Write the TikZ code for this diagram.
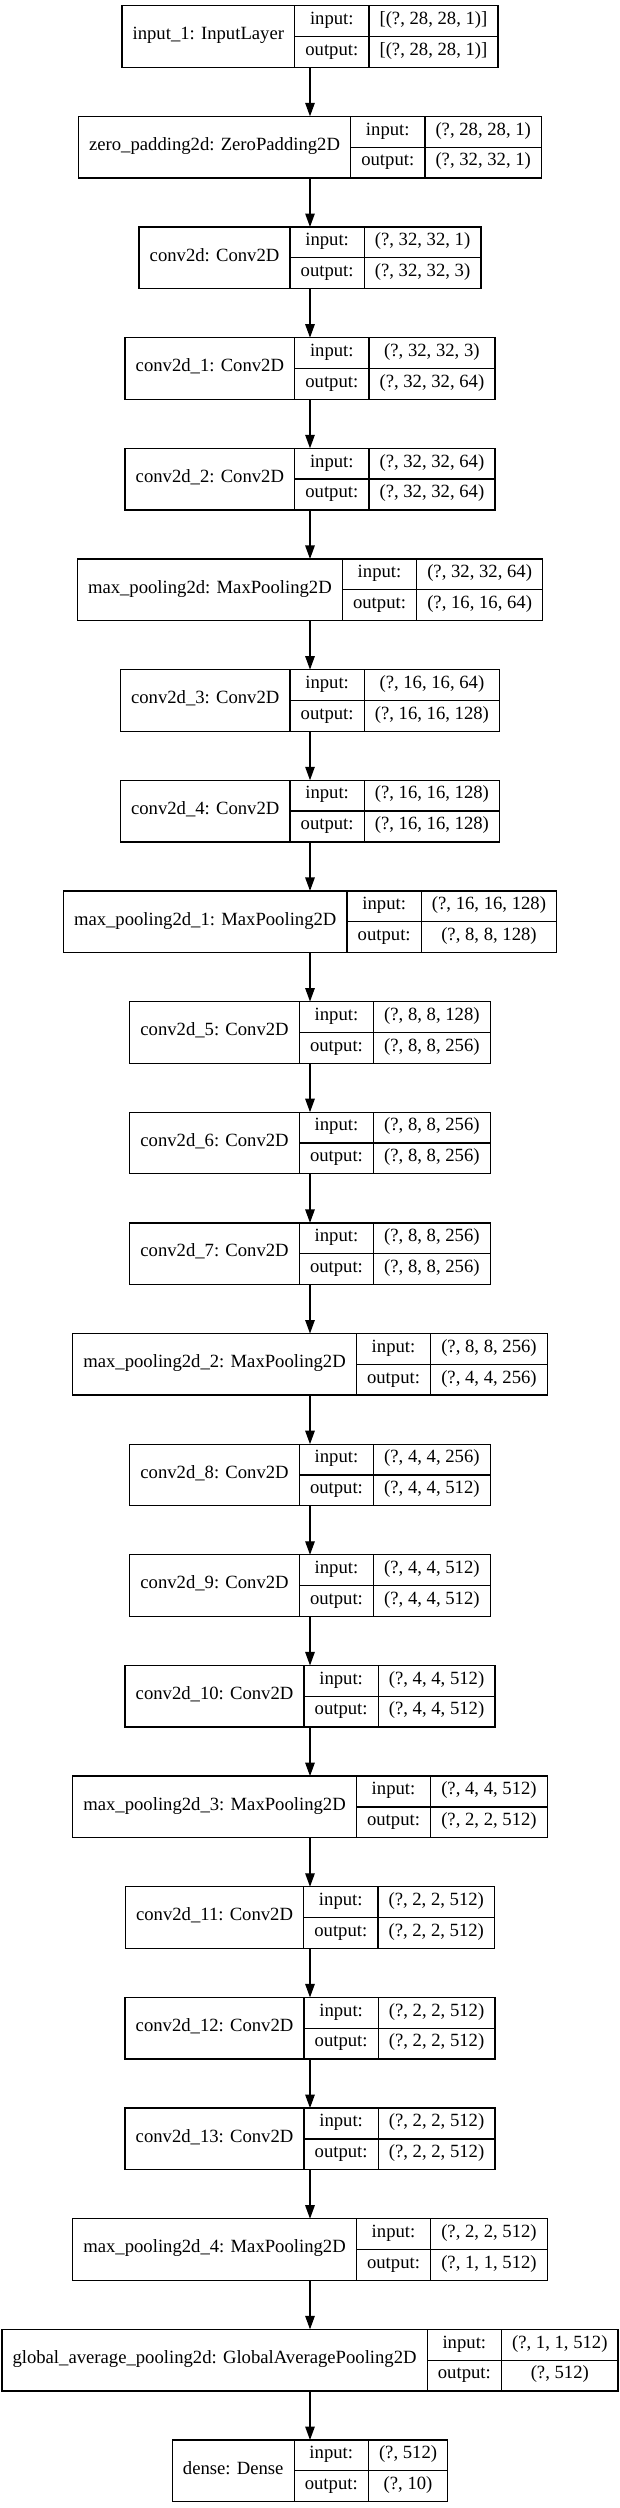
\documentclass[tikz,border=0pt]{standalone}
\usepackage{fontspec}
\setmainfont{Liberation Serif}
\usetikzlibrary{arrows.meta}
\newcommand\lfont{\fontsize{18.67pt}{22pt}\selectfont}
\newlength\lwa \newlength\lwb \newlength\lwc \newlength\lwd \newlength\lW
\newlength\padw \setlength\padw{21.3pt}
\newsavebox\mybox
\newcommand\measure[2]{\pgfinterruptpicture\sbox\mybox{\normalfont\lfont #2}\global#1=\wd\mybox\endpgfinterruptpicture}
\tikzset{
  cellbox/.style={draw=black, line width=1.3pt, inner xsep=0pt, inner ysep=0pt, outer sep=0pt,
    text height=0.662em, text depth=0pt, font=\lfont, align=center},
  outerbox/.style={draw=black, line width=1.3pt, inner sep=0pt, outer sep=0pt, minimum height=61.6pt},
  arr/.style={draw=black, line width=1.3pt, -{Triangle[length=13.5pt,width=9.5pt]}}
}
\newcommand\layer[5]{%
  \measure\lwa{#2}\global\advance\lwa by\padw
  \measure\lwb{output:}\global\advance\lwb by\padw
  \measure\lwc{#3}\measure\lwd{#4}%
  \ifdim\lwd>\lwc \global\lwc=\lwd\fi \global\advance\lwc by\padw
  \global\lW=\lwa \global\advance\lW by\lwb \global\advance\lW by\lwc
  \pgfmathsetmacro\yc{5.7+110.65*#5+30.8}%
  \node[outerbox, minimum width=\lW] (#1) at (310,\yc) {};
  \node[cellbox, minimum width=\lwa, minimum height=61.6pt, anchor=north west] (#1-n) at (#1.north west) {#2};
  \node[cellbox, minimum width=\lwb, minimum height=30.8pt, anchor=north west] (#1-i) at (#1-n.north east) {input:};
  \node[cellbox, minimum width=\lwb, minimum height=30.8pt, anchor=north west] (#1-o) at (#1-i.south west) {output:};
  \node[cellbox, minimum width=\lwc, minimum height=30.8pt, anchor=north west] (#1-iv) at (#1-i.north east) {#3};
  \node[cellbox, minimum width=\lwc, minimum height=30.8pt, anchor=north west] (#1-ov) at (#1-o.north east) {#4};
}
\begin{document}
\begin{tikzpicture}[x=1pt,y=-1pt]
\fill[white] (0,0) rectangle (620,2508);
\useasboundingbox (0,0) rectangle (620,2508);
\layer{L0}{input\_1: InputLayer}{[(?, 28, 28, 1)]}{[(?, 28, 28, 1)]}{0}
\layer{L1}{zero\_padding2d: ZeroPadding2D}{(?, 28, 28, 1)}{(?, 32, 32, 1)}{1}
\layer{L2}{conv2d: Conv2D}{(?, 32, 32, 1)}{(?, 32, 32, 3)}{2}
\layer{L3}{conv2d\_1: Conv2D}{(?, 32, 32, 3)}{(?, 32, 32, 64)}{3}
\layer{L4}{conv2d\_2: Conv2D}{(?, 32, 32, 64)}{(?, 32, 32, 64)}{4}
\layer{L5}{max\_pooling2d: MaxPooling2D}{(?, 32, 32, 64)}{(?, 16, 16, 64)}{5}
\layer{L6}{conv2d\_3: Conv2D}{(?, 16, 16, 64)}{(?, 16, 16, 128)}{6}
\layer{L7}{conv2d\_4: Conv2D}{(?, 16, 16, 128)}{(?, 16, 16, 128)}{7}
\layer{L8}{max\_pooling2d\_1: MaxPooling2D}{(?, 16, 16, 128)}{(?, 8, 8, 128)}{8}
\layer{L9}{conv2d\_5: Conv2D}{(?, 8, 8, 128)}{(?, 8, 8, 256)}{9}
\layer{L10}{conv2d\_6: Conv2D}{(?, 8, 8, 256)}{(?, 8, 8, 256)}{10}
\layer{L11}{conv2d\_7: Conv2D}{(?, 8, 8, 256)}{(?, 8, 8, 256)}{11}
\layer{L12}{max\_pooling2d\_2: MaxPooling2D}{(?, 8, 8, 256)}{(?, 4, 4, 256)}{12}
\layer{L13}{conv2d\_8: Conv2D}{(?, 4, 4, 256)}{(?, 4, 4, 512)}{13}
\layer{L14}{conv2d\_9: Conv2D}{(?, 4, 4, 512)}{(?, 4, 4, 512)}{14}
\layer{L15}{conv2d\_10: Conv2D}{(?, 4, 4, 512)}{(?, 4, 4, 512)}{15}
\layer{L16}{max\_pooling2d\_3: MaxPooling2D}{(?, 4, 4, 512)}{(?, 2, 2, 512)}{16}
\layer{L17}{conv2d\_11: Conv2D}{(?, 2, 2, 512)}{(?, 2, 2, 512)}{17}
\layer{L18}{conv2d\_12: Conv2D}{(?, 2, 2, 512)}{(?, 2, 2, 512)}{18}
\layer{L19}{conv2d\_13: Conv2D}{(?, 2, 2, 512)}{(?, 2, 2, 512)}{19}
\layer{L20}{max\_pooling2d\_4: MaxPooling2D}{(?, 2, 2, 512)}{(?, 1, 1, 512)}{20}
\layer{L21}{global\_average\_pooling2d: GlobalAveragePooling2D}{(?, 1, 1, 512)}{(?, 512)}{21}
\layer{L22}{dense: Dense}{(?, 512)}{(?, 10)}{22}
\foreach \a [evaluate=\a as \b using int(\a+1)] in {0,...,21}
  \draw[arr] (L\a) -- (L\b);
\end{tikzpicture}
\end{document}
